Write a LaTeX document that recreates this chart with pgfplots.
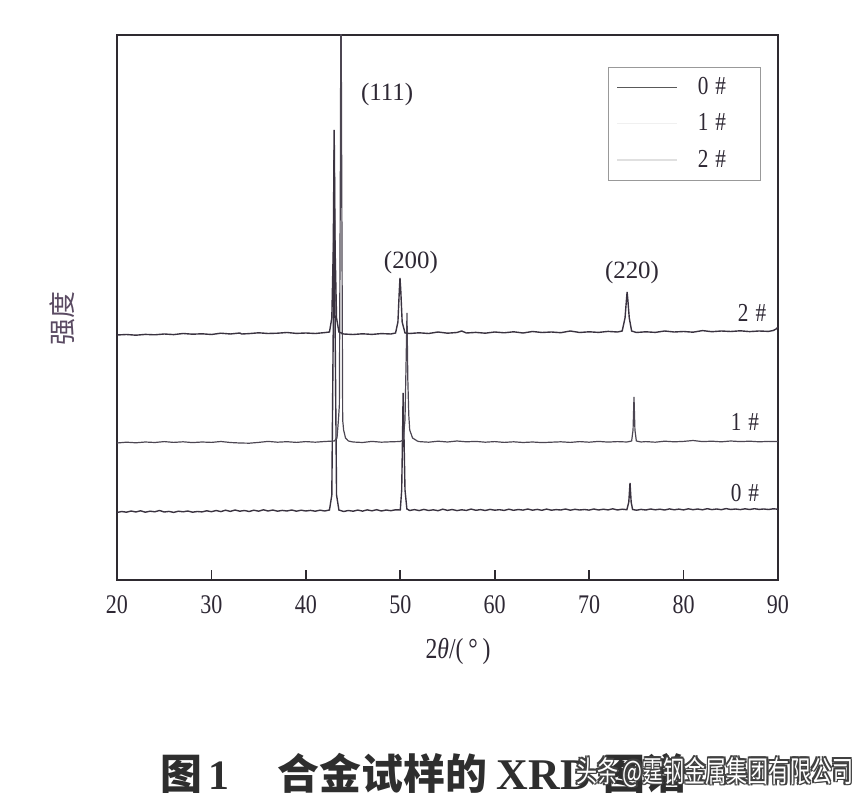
\documentclass[border=0pt]{standalone}
\usepackage{graphicx}
\usepackage{pgfplots}
\pgfplotsset{compat=1.18}
\usepackage{fontspec}
\setmainfont{Liberation Serif}
\newfontfamily\tickfont{Liberation Serif}[FakeStretch=0.82]
\newfontfamily\cjk{Noto Sans CJK SC}
\definecolor{axcol}{HTML}{2E2A30}
\definecolor{curve}{HTML}{3A3340}
\definecolor{curveb}{HTML}{4C4652}
\definecolor{labcol}{HTML}{2E2834}
\definecolor{ylabcol}{HTML}{5A4A62}

\pgfplotstableread{
x y
20 245
21 245.5
22 244.8
23 245.6
24 245.2
25 246
26 245.4
27 246.5
28 245.8
29 246.2
30 245.5
31 246.8
32 246
33 247
33.2 246
34 246.4
35 247.2
36 246.5
37 246.8
38 247.5
39 246.6
40 247
41 246.5
42 247.4
42.5 248
42.75 262
42.9 330
43.0 450
43.1 330
43.25 262
43.5 248
44 246
45 245.5
46 246.2
47 245.6
48 246.4
49 246
49.5 247
49.75 258
49.9 290
49.97 302
50.05 290
50.2 258
50.5 247
51 246.5
52 247.2
53 246.5
54 248
55 246.8
56 247.5
56.5 249
57 247
58 247.6
59 246.8
60 248
61 247.2
62 248.2
63 247
64 248.5
65 247.5
66 248
67 247.3
68 249
69 247.5
70 248.2
71 247.6
72 248.6
73 248
73.5 249
73.8 262
73.95 280
74.02 288
74.1 280
74.25 262
74.5 249
75 247.5
76 248.2
77 247.6
78 249
79 248
80 248.5
81 247.8
82 249.4
83 248.3
84 249
85 248.5
86 249.2
87 248.4
88 249
89 248.6
89.5 249.5
89.8 251
90 253
}\dataB

\pgfplotstableread{
x y
20 137
21 137.8
22 137.2
23 138
24 137.5
25 138.4
26 137.6
27 138.2
28 137.4
29 138
30 137.6
31 138.5
32 137.5
33 137
34 136.8
35 137.6
36 138.6
37 137.8
38 138.3
39 137.6
40 138.4
41 137.8
42 138.5
43 139
43.3 142
43.45 160
43.55 175
43.65 400
43.72 620
43.8 400
43.9 160
44.0 150
44.2 142
44.5 139
45 138
46 137.5
47 138.6
48 137.8
49 138.2
50 138.5
50.3 140
50.5 160
50.62 220
50.71 267
50.8 200
50.9 165
51.0 150
51.3 142
51.8 139
52 138.4
53 137.8
54 138.8
55 138
56 139
57 138.2
58 138.6
59 137.8
60 138.4
61 137.6
62 138.2
63 137.5
64 138
65 137.4
66 137.8
67 138.2
68 137.6
69 138.4
70 137.8
71 138.6
72 137.9
73 138.4
74 138
74.5 139
74.65 150
74.75 183
74.85 150
75.0 139
75.5 138
76 138.4
77 137.8
78 138.8
79 138.2
80 138.6
81 139.5
82 138.4
83 138.8
84 138.2
85 139
86 138.4
87 138.8
88 138.2
89 138.6
90 138.4
}\dataA

\pgfplotstableread{
x y
20 67.5
20.5 68.5
21 67.8
21.5 69
22 68
22.5 69.2
23 67.8
23.5 68.8
24 68.2
24.5 69.5
25 68
25.5 68.6
26 67.6
26.5 68.8
27 68.2
27.5 69
28 67.8
28.5 68.5
29 68.1
29.5 69.2
30 68.3
30.5 69.5
31 68.4
31.5 69.8
32 68.6
32.5 70
33 68.8
33.5 69.5
34 68.5
34.5 69.8
35 68.8
35.5 70.2
36 69
36.5 70
37 68.8
37.5 69.6
38 69
38.5 70
39 68.8
39.5 69.8
40 69
40.5 69.6
41 68.8
41.5 69.8
42 69
42.5 70
42.75 85
42.9 250
43.0 430
43.1 250
43.25 85
43.5 70
44 68.5
44.5 69.5
45 68.8
45.5 69.9
46 68.9
46.5 70.1
47 69.2
47.5 70.3
48 69
48.5 70
49 69.3
49.5 70.2
50.0 70
50.15 90
50.25 150
50.3 187
50.38 150
50.5 90
50.7 71
51 69.5
51.5 70.4
52 69.4
52.5 70.6
53 69.5
53.5 70.2
54 69.3
54.5 70.8
55 69.6
55.5 70.5
56 69.4
56.5 70.2
57 69.6
57.5 70.9
58 69.7
58.5 70.4
59 69.5
59.5 70.6
60 69.8
60.5 70.3
61 69.6
61.5 70.8
62 69.7
62.5 70.5
63 69.9
63.5 71
64 69.8
64.5 70.6
65 69.7
65.5 70.9
66 69.8
66.5 70.4
67 70
67.5 71
68 69.8
68.5 70.7
69 70
69.5 70.5
70 69.9
70.5 71
71 70
71.5 70.8
72 70.1
72.5 71.2
73 70
73.5 70.8
74.0 70.3
74.2 78
74.33 97
74.45 78
74.6 70.5
75 69.8
75.5 70.6
76 70
76.5 71
77 70.2
77.5 70.8
78 70
78.5 71.1
79 70.2
79.5 70.9
80 70.1
80.5 71.2
81 70.3
81.5 71
82 70.2
82.5 71.3
83 70.4
83.5 71
84 70.3
84.5 71.4
85 70.5
85.5 71
86 70.4
86.5 71.2
87 70.5
87.5 71.3
88 70.6
88.5 71
89 70.5
89.5 71.2
90 70.8
}\dataO

\begin{document}
\begin{tikzpicture}
\begin{axis}[
  at={(0,0)}, anchor=south west,
  scale only axis,
  width=330.5bp, height=272.5bp,
  xmin=20, xmax=90, ymin=0, ymax=545,
  axis line style={axcol, line width=0.9pt},
  xtick={20,30,...,90},
  ytick=\empty,
  xtick pos=bottom,
  tick align=inside,
  major tick length=5bp,
  tick style={axcol, line width=0.8pt},
  xticklabel style={anchor=center, yshift=-12.5bp, font=\tickfont\fontsize{13.5}{15}\selectfont, text=labcol},
  /pgf/number format/assume math mode=true,
  clip mode=individual,
  legend image code/.code={\draw[#1] (0bp,0bp) -- (30bp,0bp);},
  legend style={at={(0.743,0.941)}, anchor=north west, draw=black!40, line width=0.5pt,
    font=\tickfont\fontsize{13}{14}\selectfont, text=labcol,
    inner xsep=4bp, inner ysep=3bp, row sep=4bp,
    /tikz/every even column/.append style={column sep=8bp},
    cells={anchor=west}},
]
\addplot[curve, line width=0.7pt, forget plot] table[x=x,y=y] {\dataO};
\addplot[curveb, line width=0.6pt, forget plot] table[x=x,y=y] {\dataA};
\addplot[curve, line width=0.7pt, forget plot] table[x=x,y=y] {\dataB};

\addlegendimage{color=black!65, line width=0.6pt}
\addlegendentry{\kern8bp 0\kern3.5bp\#\kern11bp\null}
\addlegendimage{color=black!6, line width=0.6pt}
\addlegendentry{\kern8bp 1\kern3.5bp\#\kern11bp\null}
\addlegendimage{color=black!12, line width=0.6pt}
\addlegendentry{\kern8bp 2\kern3.5bp\#\kern11bp\null}

\node[font=\fontsize{12.5}{14}\selectfont, text=labcol] at (axis cs:48.6,485) {(111)};
\node[font=\fontsize{12.5}{14}\selectfont, text=labcol] at (axis cs:51.13,317) {(200)};
\node[font=\fontsize{12.5}{14}\selectfont, text=labcol] at (axis cs:74.54,307) {(220)};
\node[font=\tickfont\fontsize{13}{14}\selectfont, text=labcol] at (axis cs:87.25,267) {2\hspace{3.5bp}\#};
\node[font=\tickfont\fontsize{13}{14}\selectfont, text=labcol] at (axis cs:86.5,158) {1\hspace{3.5bp}\#};
\node[font=\tickfont\fontsize{13}{14}\selectfont, text=labcol] at (axis cs:86.5,87) {0\hspace{3.5bp}\#};

\node[font=\tickfont\fontsize{14.5}{16}\selectfont, text=labcol] at (axis description cs:0.516,-0.132) {2\textit{θ}/(\,°\,)};
\node[rotate=90, font=\cjk\fontsize{13.5}{15}\selectfont, text=ylabcol] at (axis description cs:-0.083,0.48) {强度};
\end{axis}
% caption
\node[anchor=west, font=\cjk\bfseries\fontsize{21}{24}\selectfont, text=black!82] at (18bp,-96.5bp)
  {图\,{\rmfamily\bfseries 1}\hspace{24bp}合金试样的\hspace{5bp}{\rmfamily\bfseries\fontsize{22}{24}\selectfont XRD}\hspace{6bp}图谱};
% watermark
\foreach \dx/\dy in {0.6/0.6,-0.6/0.6,0.6/-0.6,-0.6/-0.6,0.8/0,-0.8/0,0/0.8,0/-0.8}{
  \node[anchor=west, font=\cjk\fontsize{11}{13}\selectfont, text=black!75] at (226bp+\dx bp,-96bp+\dy bp)
    {\scalebox{0.96}[1.35]{头条 @霆钢金属集团有限公司}};
}
\node[anchor=west, font=\cjk\fontsize{11}{13}\selectfont, text=white] at (226bp,-96bp)
  {\scalebox{0.96}[1.35]{头条 @霆钢金属集团有限公司}};
\pgfresetboundingbox
\path[use as bounding box] (-58.5bp,-114bp) rectangle (375.5bp,290bp);
\end{tikzpicture}
\end{document}
